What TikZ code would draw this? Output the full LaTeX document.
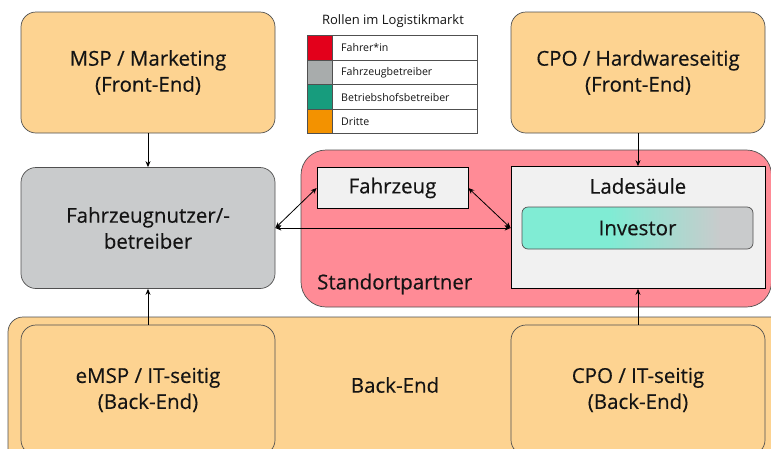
\documentclass[tikz,border=0pt]{standalone}
\usepackage{fontspec}
\setmainfont{Open Sans}
\newfontfamily\boxfam{Open Sans}[FakeBold=0.35]
\usetikzlibrary{arrows.meta}

\definecolor{roleOrange}{RGB}{253,211,145}
\definecolor{roleGray}{RGB}{201,203,204}
\definecolor{sitePink}{RGB}{255,139,150}
\definecolor{paleGray}{RGB}{241,241,241}
\definecolor{invTeal}{RGB}{128,236,212}
\definecolor{edgeGray}{RGB}{80,80,80}
\definecolor{txt}{RGB}{20,20,20}
\definecolor{legRed}{RGB}{227,0,27}
\definecolor{legGray}{RGB}{168,172,172}
\definecolor{legTeal}{RGB}{23,156,125}
\definecolor{legOrange}{RGB}{243,146,0}

% gradient of the investor box: teal on the left, fading into gray
\pgfdeclarehorizontalshading{investorshade}{100bp}{color(0bp)=(invTeal); color(44bp)=(invTeal); color(68bp)=(roleGray); color(100bp)=(roleGray)}

\tikzset{
  txtfont/.style={font=\boxfam\fontsize{20.5}{26}\selectfont, text=txt},
  rolebox/.style={draw=edgeGray, line width=0.7pt, rounded corners=15pt, align=center, txtfont,
                  minimum width=254pt, minimum height=121pt, inner sep=0pt},
  plainbox/.style={draw=black, line width=0.7pt, align=center, txtfont, inner sep=0pt},
  region/.style={draw=edgeGray, line width=0.7pt},
  conn/.style={line width=0.8pt, draw=black, -{Stealth[length=6pt,width=5pt]}},
  biconn/.style={line width=0.8pt, draw=black, {Stealth[length=6pt,width=5pt]}-{Stealth[length=6pt,width=5pt]}},
  legfont/.style={font=\fontsize{10.6}{13}\selectfont, text=txt},
  legline/.style={draw=edgeGray, line width=0.8pt}
}

\begin{document}
\begin{tikzpicture}[x=1pt,y=-1pt]
\useasboundingbox (0,0) rectangle (771,448);
\clip (0,0) rectangle (771,448);
\fill[white] (0,0) rectangle (771,448);

% enclosing areas
\draw[region, fill=roleOrange, rounded corners=15pt] (8,317) rectangle (800,475);
\draw[region, fill=sitePink, rounded corners=25pt] (301,150) rectangle (771.5,307);

% front-end boxes
\node[rolebox, fill=roleOrange] (msp) at (148,72.5) {MSP / Marketing\\(Front-End)};
\node[rolebox, fill=roleOrange] (cpohw) at (638,72.5) {CPO / Hardwareseitig\\(Front-End)};

% vehicle user
\node[rolebox, fill=roleGray] (nutzer) at (148,228) {Fahrzeugnutzer/-\\betreiber};

% site partner contents
\node[plainbox, fill=paleGray, minimum width=151pt, minimum height=41pt] (fahrzeug) at (392.5,188) {Fahrzeug};
\node[plainbox, fill=paleGray, minimum width=254pt, minimum height=122pt] (lade) at (638,227.5) {};
\node[txtfont] (ladetitle) at (638,186) {Ladesäule};
\node[draw=edgeGray, line width=0.7pt, rounded corners=6pt, shading=investorshade,
      minimum width=231pt, minimum height=42pt, inner sep=0pt, txtfont] (investor) at (637.5,228) {Investor};
\node[txtfont, anchor=west, inner sep=0pt] (standort) at (317,284) {Standortpartner};

% back-end boxes
\node[rolebox, fill=roleOrange, minimum height=130pt] (emsp) at (148,390) {eMSP / IT-seitig\\(Back-End)};
\node[rolebox, fill=roleOrange, minimum height=130pt] (cpoit) at (638,390) {CPO / IT-seitig\\(Back-End)};
\node[txtfont] (backend) at (395,385) {Back-End};

% connectors
\draw[conn] (msp.south) -- (nutzer.north);
\draw[conn] (emsp.north) -- (nutzer.south);
\draw[conn] (cpohw.south) -- (lade.north);
\draw[conn] (cpoit.north) -- (lade.south);
\draw[biconn] (nutzer.east) -- (lade.west |- nutzer.east);
\draw[biconn] (nutzer.east) -- (fahrzeug.west);
\draw[biconn] (fahrzeug.east) -- (lade.west |- nutzer.east);

% legend
\node[font=\fontsize{13}{15}\selectfont, text=txt] (legtitle) at (393,21) {Rollen im Logistikmarkt};
\fill[legRed]    (307,35)   rectangle (332,60);
\fill[legGray]   (307,60)   rectangle (332,84.5);
\fill[legTeal]   (307,84.5) rectangle (332,109);
\fill[legOrange] (307,109)  rectangle (332,133.5);
\draw[legline] (307,35) rectangle (477,133.5);
\draw[legline] (332,35) -- (332,133.5);
\draw[legline] (307,60) -- (477,60);
\draw[legline] (307,84.5) -- (477,84.5);
\draw[legline] (307,109) -- (477,109);
\node[legfont, anchor=west, inner sep=0pt] (leg1) at (341,47.5) {Fahrer*in};
\node[legfont, anchor=west, inner sep=0pt] (leg2) at (341,72.5) {Fahrzeugbetreiber};
\node[legfont, anchor=west, inner sep=0pt] (leg3) at (341,97) {Betriebshofsbetreiber};
\node[legfont, anchor=west, inner sep=0pt] (leg4) at (341,121.5) {Dritte};
\end{tikzpicture}
\end{document}
